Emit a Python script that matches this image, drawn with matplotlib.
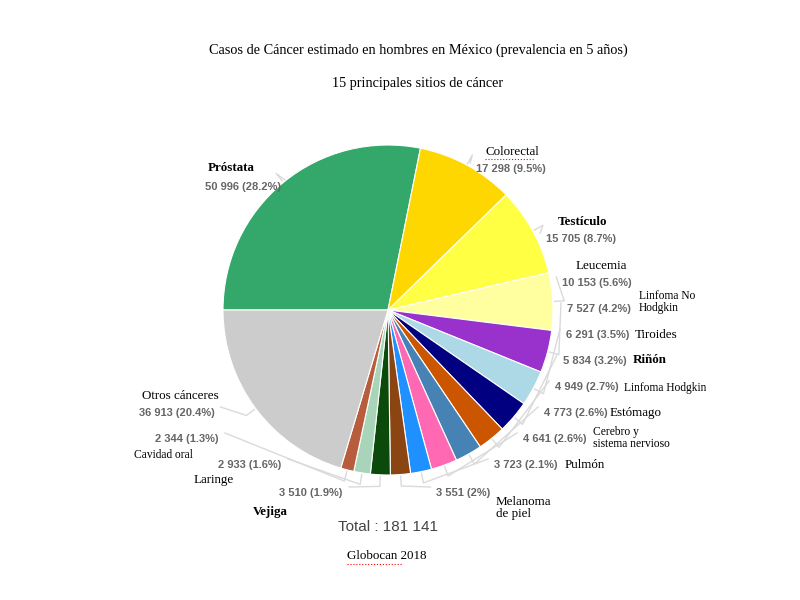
import numpy as np
import matplotlib.pyplot as plt

# data (Globocan 2018, prevalencia 5 años, hombres México)
sites = ['Próstata', 'Colorectal', 'Testículo', 'Leucemia', 'Linfoma No\nHodgkin',
         'Tiroides', 'Riñón', 'Linfoma Hodgkin', 'Estómago', 'Cerebro y\nsistema nervioso',
         'Pulmón', 'Melanoma\nde piel', 'Vejiga', 'Laringe', 'Cavidad oral', 'Otros cánceres']
cases = [50996, 17298, 15705, 10153, 7527, 6291, 5834, 4949, 4773, 4641,
         3723, 3551, 3510, 2933, 2344, 36913]
colors = ['#34a76b', '#ffd700', '#ffff44', '#ffffa0', '#9932cc', '#add8e6', '#000080',
          '#cc5500', '#4682b4', '#ff69b4', '#1e90ff', '#8b4513', '#0b4a0b', '#a8d5b9',
          '#b85c3e', '#cccccc']
bold_sites = ['Próstata', 'Testículo', 'Riñón', 'Vejiga']
small_sites = ['Linfoma No\nHodgkin', 'Linfoma Hodgkin', 'Cerebro y\nsistema nervioso', 'Cavidad oral']

# label layout in pixels (x, y from top)
num_pos = [(243, 187), (511, 169), (581, 239), (597, 283), (599, 309), (598, 335),
           (595, 361), (587, 387), (576, 413), (555, 439), (526, 465), (463, 493),
           (311, 493), (250, 465), (187, 439), (177, 413)]
name_pos = [(208, 168), (485, 152), (558, 222), (576, 266), (639, 302), (635, 335),
            (633, 360), (624, 388), (610, 413), (593, 438), (565, 465), (496, 508),
            (253, 512), (194, 480), (134, 455), (142, 396)]

total = sum(cases)
cx, cy, R = 388, 310, 165

fig = plt.figure(figsize=(8, 6), dpi=100)
ax = fig.add_axes([0, 0, 1, 1])
ax.pie(cases, colors=colors, startangle=180, counterclock=False,
       center=(cx, 600 - cy), radius=R,
       wedgeprops=dict(edgecolor='white', linewidth=0.8))
ax.set_xlim(0, 800)
ax.set_ylim(0, 600)
ax.set_aspect('equal')
ax.axis('off')

def Y(py):
    return 600 - py

# leader lines and labels
ang = 180.0
for i, v in enumerate(cases):
    span = v / total * 360
    mid = np.radians(ang - span / 2)
    ang -= span
    pct = round(v / total * 100, 1)
    label = f"{v:,}".replace(",", " ") + f" ({pct:g}%)"
    nx, ny = num_pos[i]
    half = len(label) * 2.75
    tx = nx - half - 5 if nx > cx else nx + half + 5
    x0 = cx + R * 1.01 * np.cos(mid)
    y0 = (600 - cy) + R * 1.01 * np.sin(mid)
    x1 = cx + R * 1.07 * np.cos(mid)
    y1 = (600 - cy) + R * 1.07 * np.sin(mid)
    ax.plot([x0, x1, tx], [y0, y1, Y(ny) + 6], color='#dadada', lw=1, zorder=0)

    ax.text(nx, Y(ny), label, ha='center', va='center', fontsize=8, color='#666666',
            family='Liberation Sans', fontweight='bold')
    name = sites[i]
    px, py = name_pos[i]
    ax.text(px, Y(py), name, ha='left', va='center',
            fontsize=8.3 if name in small_sites else 9.4,
            fontweight='bold' if name in bold_sites else 'normal',
            family='Liberation Serif', color='black', linespacing=1.05)

# titles
ax.text(418, Y(50), 'Casos de Cáncer estimado en hombres en México (prevalencia en 5 años)',
        ha='center', va='center', fontsize=10.3, family='Liberation Serif')
ax.text(418, Y(83), '15 principales sitios de cáncer',
        ha='center', va='center', fontsize=10.3, family='Liberation Serif')
ax.text(388, Y(527), 'Total : ' + f"{total:,}".replace(",", " "),
        ha='center', va='center', fontsize=11, family='Liberation Sans', color='#444444')
ax.text(387, Y(556), 'Globocan 2018', ha='center', va='center',
        fontsize=9.4, family='Liberation Serif')

# spell-check squiggles
ax.plot([485, 535], [Y(159), Y(159)], color='red', lw=0.8, ls=':')
ax.plot([347, 403], [Y(564), Y(564)], color='red', lw=0.8, ls=':')

fig.savefig('out.png', dpi=100)
